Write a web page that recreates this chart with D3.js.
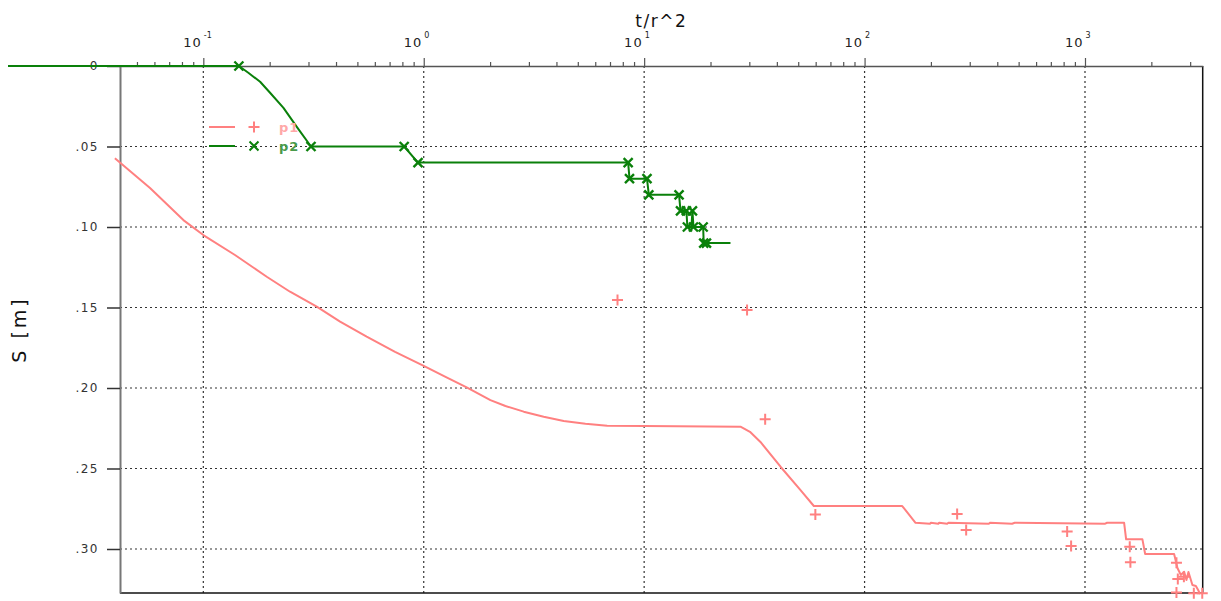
<!DOCTYPE html>
<html>
<head>
<meta charset="utf-8">
<script src="https://cdn.jsdelivr.net/npm/d3@7"></script>
<style>
  body { margin: 0; background: #fff; }
  text { font-family: "DejaVu Sans", sans-serif; }
</style>
</head>
<body>
<div id="chart"></div>
<script>
// ---- data (t/r^2 , drawdown s [m]) ----
// p1 : continuous record
const P1_LINE_T = [0.0397, 0.0573, 0.0812, 0.1, 0.1392, 0.194, 0.2474, 0.327, 0.4173, 0.551, 0.741, 1, 1.249, 1.574,
                   2.007, 2.348, 2.842, 3.501, 4.317, 5.415, 6.795, 10.03, 27.35, 30.2,
                   33.7, 41.56, 51.22, 58.86, 148.2, 170.3, 198, 200, 216, 218, 237, 240, 367, 370, 467, 480,
                   1235, 1260, 1505, 1537, 1822, 1875, 2537, 2627, 2721, 2817, 2886, 2947, 3072, 3184, 3261, 3330];
const P1_LINE_S = [0.0573, 0.0758, 0.0957, 0.105, 0.1174, 0.1309, 0.1402, 0.1495, 0.1588, 0.1681, 0.1775, 0.1863, 0.193, 0.1998,
                   0.2075, 0.2112, 0.2147, 0.2178, 0.2205, 0.2222, 0.2234, 0.2236, 0.224, 0.2272,
                   0.2335, 0.2489, 0.2634, 0.2733, 0.2733, 0.2837, 0.2843, 0.2837, 0.2843, 0.2837, 0.2843, 0.2837, 0.2843, 0.2837, 0.2843, 0.2837,
                   0.2843, 0.2837, 0.2837, 0.294, 0.294, 0.3031, 0.3031, 0.3118, 0.3161, 0.3141, 0.3193, 0.3143, 0.3224, 0.323, 0.3255, 0.328];
// p1 : manual readings
const P1_OBS_T = [7.57, 29.3, 35.4, 59.8, 263, 289, 830, 865, 1596, 1607, 2600, 2637, 2600, 2810, 3117, 3404];
const P1_OBS_S = [0.1453, 0.1516, 0.2194, 0.2785, 0.2783, 0.2882, 0.2892, 0.2981, 0.2986, 0.3083, 0.3085, 0.3186, 0.327, 0.3172, 0.3275, 0.3275];

// p2 : line and readings
const P2_LINE_T = [0.013, 0.145, 0.16, 0.181, 0.2008, 0.231, 0.266, 0.308, 0.815, 0.942, 8.46, 8.58, 10.3, 10.5, 14.4, 14.62,
                   15.55, 15.71, 16.39, 16.56, 16.74, 18.52, 18.63, 19.17, 24.64];
const P2_LINE_S = [0, 0, 0.0042, 0.0098, 0.0166, 0.026, 0.038, 0.05, 0.05, 0.06, 0.06, 0.07, 0.07, 0.08, 0.08, 0.09,
                   0.09, 0.10, 0.10, 0.09, 0.10, 0.10, 0.11, 0.11, 0.11];
const P2_OBS_T = [0.145, 0.308, 0.815, 0.942, 8.46, 8.58, 10.3, 10.5, 14.4, 14.62, 15.55, 16.56, 15.71, 16.74, 18.52, 18.63, 19.17];
const P2_OBS_S = [0, 0.05, 0.05, 0.06, 0.06, 0.07, 0.07, 0.08, 0.08, 0.09, 0.09, 0.09, 0.10, 0.10, 0.10, 0.11, 0.11];

const Y_TICKS = [0, 0.05, 0.10, 0.15, 0.20, 0.25, 0.30];
const X_DECADES = [-2, -1, 0, 1, 2, 3];
const SERIES_NAMES = ['p1', 'p2'];

// ---- layout ----
const WIDTH = 1221, HEIGHT = 601;
const LEFT = 120, RIGHT = 1202.7, TOP = 66, BOTTOM = 593;
const PINK = '#ff8080', GREEN = '#0a800a';

const X = d3.scaleLog().domain([0.04188, 3420]).range([LEFT, RIGHT]);
const Y = d3.scaleLinear().domain([0, 0.32733]).range([TOP, BOTTOM]);

const svg = d3.select('#chart').append('svg')
    .attr('width', WIDTH)
    .attr('height', HEIGHT);

// all x ticks (1..9 per decade) inside the domain
let xTicks = [];
X_DECADES.forEach(e => {
    for (let m = 1; m <= 9; m++) {
        const v = m * Math.pow(10, e);
        if (v >= X.domain()[0] && v <= X.domain()[1]) xTicks.push(v);
    }
});
const isMajor = v => Math.abs(Math.log10(v) - Math.round(Math.log10(v))) < 1e-9;
const majors = xTicks.filter(isMajor);

// grid
const grid = svg.append('g').attr('stroke', '#333').attr('stroke-width', 1.2).attr('stroke-dasharray', '2,3');
grid.selectAll('.vg').data(majors).enter().append('line')
    .attr('x1', d => X(d)).attr('x2', d => X(d))
    .attr('y1', TOP).attr('y2', BOTTOM);
grid.selectAll('.hg').data(Y_TICKS.slice(1)).enter().append('line')
    .attr('x1', LEFT).attr('x2', RIGHT)
    .attr('y1', d => Y(d)).attr('y2', d => Y(d));

// frame right / bottom
svg.append('line').attr('x1', RIGHT).attr('x2', RIGHT).attr('y1', TOP).attr('y2', BOTTOM)
   .attr('stroke', '#111').attr('stroke-width', 1.5);
svg.append('line').attr('x1', LEFT).attr('x2', RIGHT).attr('y1', BOTTOM).attr('y2', BOTTOM)
   .attr('stroke', '#111').attr('stroke-width', 1.5);

// top x axis
const xAxisG = svg.append('g')
    .attr('transform', 'translate(0,' + TOP + ')')
    .call(d3.axisTop(X).tickValues(xTicks).tickSize(4).tickSizeOuter(0).tickFormat(''));
xAxisG.select('.domain').attr('stroke', '#555').attr('stroke-width', 1.5);
xAxisG.selectAll('.tick line').attr('stroke', '#555').attr('stroke-width', 1.2)
    .attr('y2', d => isMajor(d) ? -8 : -4);
xAxisG.selectAll('.tick text').remove();
xAxisG.selectAll('.tick').filter(isMajor).each(function(d) {
    const g = d3.select(this);
    g.append('text')
        .attr('x', -2).attr('y', -19)
        .attr('text-anchor', 'end')
        .attr('fill', '#222')
        .attr('font-size', '13px')
        .attr('letter-spacing', '1px')
        .text('10');
    g.append('text')
        .attr('x', 0).attr('y', -28)
        .attr('text-anchor', 'start')
        .attr('fill', '#222')
        .attr('font-size', '8px')
        .text(Math.round(Math.log10(d)));
});

// left y axis
const yAxisG = svg.append('g')
    .attr('transform', 'translate(' + LEFT + ',0)')
    .call(d3.axisLeft(Y).tickValues(Y_TICKS).tickSize(13).tickSizeOuter(0).tickPadding(8)
        .tickFormat(d => d === 0 ? '0' : d3.format('.2f')(d).replace(/^0/, '')));
yAxisG.select('.domain').attr('stroke', '#777').attr('stroke-width', 2);
yAxisG.selectAll('.tick line').attr('stroke', '#333').attr('stroke-width', 1.5);
yAxisG.selectAll('.tick text')
    .attr('font-family', '"DejaVu Sans", sans-serif')
    .attr('font-size', '12px')
    .attr('letter-spacing', '1.5px')
    .attr('fill', '#333');

// axis titles
svg.append('text')
    .attr('x', (LEFT + RIGHT) / 2).attr('y', 27)
    .attr('text-anchor', 'middle')
    .attr('font-size', '17px')
    .attr('letter-spacing', '1.5px')
    .attr('fill', '#111')
    .text('t/r^2');
svg.append('text')
    .attr('transform', 'translate(26,' + ((TOP + BOTTOM) / 2) + ') rotate(-90)')
    .attr('text-anchor', 'middle')
    .attr('font-size', '19px')
    .attr('letter-spacing', '3px')
    .attr('fill', '#111')
    .text('S [m]');

// lines
const line = d3.line().x(d => X(d[0])).y(d => Y(d[1]));
const p1Line = P1_LINE_T.map((t, i) => [t, P1_LINE_S[i]]);
const p2Line = P2_LINE_T.map((t, i) => [t, P2_LINE_S[i]]);

svg.append('path').datum(p1Line)
    .attr('d', line)
    .attr('fill', 'none')
    .attr('stroke', PINK)
    .attr('stroke-width', 2)
    .attr('stroke-linejoin', 'round');

svg.append('path').datum(p2Line)
    .attr('d', line)
    .attr('fill', 'none')
    .attr('stroke', GREEN)
    .attr('stroke-width', 2)
    .attr('stroke-linejoin', 'round');

// markers
const PLUS = 'M-5.5,0H5.5M0,-5.5V5.5';
const CROSS = 'M-4.5,-4.5L4.5,4.5M-4.5,4.5L4.5,-4.5';

svg.selectAll('.p1obs')
    .data(P1_OBS_T.map((t, i) => [t, P1_OBS_S[i]]))
    .enter().append('path')
    .attr('class', 'p1obs')
    .attr('transform', d => 'translate(' + X(d[0]) + ',' + Y(d[1]) + ')')
    .attr('d', PLUS)
    .attr('stroke', PINK)
    .attr('stroke-width', 2);

svg.selectAll('.p2obs')
    .data(P2_OBS_T.map((t, i) => [t, P2_OBS_S[i]]))
    .enter().append('path')
    .attr('class', 'p2obs')
    .attr('transform', d => 'translate(' + X(d[0]) + ',' + Y(d[1]) + ')')
    .attr('d', CROSS)
    .attr('stroke', GREEN)
    .attr('stroke-width', 2.4);

// legend
const legend = svg.append('g').attr('transform', 'translate(209,127)');
const leg = legend.selectAll('.leg').data(SERIES_NAMES).enter().append('g')
    .attr('transform', (d, i) => 'translate(0,' + i * 19 + ')');
leg.append('line')
    .attr('x1', 0).attr('x2', 26).attr('y1', 0).attr('y2', 0)
    .attr('stroke', (d, i) => i === 0 ? PINK : GREEN)
    .attr('stroke-width', 2);
leg.append('path')
    .attr('transform', 'translate(45,0)')
    .attr('d', (d, i) => i === 0 ? PLUS : CROSS)
    .attr('stroke', (d, i) => i === 0 ? PINK : GREEN)
    .attr('stroke-width', 2);
leg.append('text')
    .attr('x', 70).attr('y', 5)
    .attr('font-size', '13px')
    .attr('font-weight', 'bold')
    .attr('letter-spacing', '1px')
    .attr('fill', (d, i) => i === 0 ? '#ffa8a8' : '#4a9a4a')
    .text(d => d);
</script>
</body>
</html>
